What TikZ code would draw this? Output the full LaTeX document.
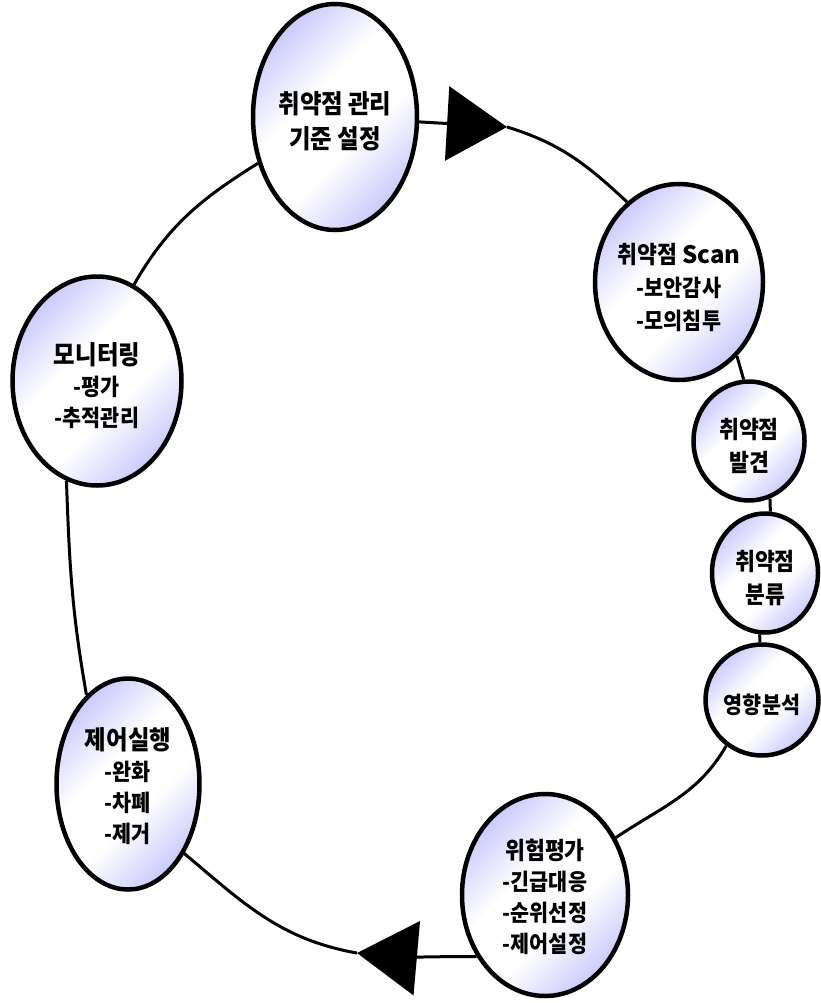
\documentclass[tikz,border=0pt]{standalone}
\usepackage{fontspec}
\newfontfamily\kr[FakeStretch=0.9]{Noto Sans CJK KR}
\newfontfamily\krn{Noto Sans CJK KR}
\usetikzlibrary{shapes.geometric,arrows.meta,backgrounds}
\definecolor{lav}{RGB}{200,200,252}
\pgfdeclareverticalshading{lavband}{100bp}{color(0bp)=(lav); color(24bp)=(lav); color(42bp)=(white); color(58bp)=(white); color(76bp)=(lav); color(100bp)=(lav)}
\tikzset{
  stage/.style={ellipse, draw, line width=4.5pt, shading=lavband, shading angle=45,
    inner sep=0pt},
  txt/.style={align=center, yshift=-5pt, inner sep=0pt},
  conn/.style={line width=3pt},
  tipA/.style={-{Triangle[length=60pt,width=74pt]}}
}
\begin{document}
\begin{tikzpicture}[x=1pt,y=1pt]
\useasboundingbox (0,0) rectangle (821,-1003);
\node[stage, minimum width=164pt, minimum height=226pt,
  label={[txt,yshift=1pt,font=\kr\bfseries\fontsize{26}{35}\selectfont]center:{취약점 관리\\기준 설정}}] (n1) at (335,-117) {};
\node[stage, minimum width=168pt, minimum height=196pt,
  label={[txt,font=\kr\bfseries\fontsize{23}{33}\selectfont]center:{{\fontsize{24}{33}\selectfont 취약점 {\krn Scan}}\\-보안감사\\-모의침투}}] (n2) at (679,-282) {};
\node[stage, minimum width=111pt, minimum height=119pt,
  label={[txt,font=\kr\bfseries\fontsize{24}{33}\selectfont]center:{취약점\\발견}}] (n3) at (749,-441) {};
\node[stage, minimum width=106pt, minimum height=119pt,
  label={[txt,font=\kr\bfseries\fontsize{24}{33}\selectfont]center:{취약점\\분류}}] (n4) at (765,-573) {};
\node[stage, minimum width=113pt, minimum height=111pt,
  label={[txt,font=\kr\bfseries\fontsize{23}{33}\selectfont]center:{영향분석}}] (n5) at (762,-700) {};
\node[stage, minimum width=166pt, minimum height=202pt,
  label={[txt,yshift=3pt,font=\kr\bfseries\fontsize{23}{31}\selectfont]center:{{\fontsize{24}{31}\selectfont 위험평가}\\-긴급대응\\-순위선정\\-제어설정}}] (n6) at (545,-895) {};
\node[stage, minimum width=143pt, minimum height=211pt,
  label={[txt,yshift=3pt,font=\kr\bfseries\fontsize{23}{31}\selectfont]center:{{\fontsize{26}{31}\selectfont 제어실행}\\-완화\\-차폐\\-제거}}] (n7) at (128,-784) {};
\node[stage, minimum width=169pt, minimum height=209pt,
  label={[txt,font=\kr\bfseries\fontsize{23}{31}\selectfont]center:{{\fontsize{26}{31}\selectfont 모니터링}\\-평가\\-추적관리}}] (n8) at (97,-381) {};
\coordinate (A1) at (507,-127);
\coordinate (A2) at (357,-953);
\begin{scope}[on background layer]
\draw[conn,tipA] (n1) -- (A1);
\draw[conn] (A1) to[out=-17,in=137] (n2.123);
\draw[conn] (n2.-52) -- (n3.95);
\draw[conn] (n3.-70) -- (n4.85);
\draw[conn] (n4.-95) -- (n5.92);
\draw[conn] (n5.-128) to[out=-120,in=34] (n6.39);
\draw[conn,tipA] (n6.222) to[out=180,in=-5] (A2);
\draw[conn] (A2) to[out=170,in=-40] (n7.-51);
\draw[conn] (n7.115) to[out=100,in=-88] (n8.-107);
\draw[conn] (n8.69) to[out=60,in=212] (n1.211);
\end{scope}
\end{tikzpicture}
\end{document}
